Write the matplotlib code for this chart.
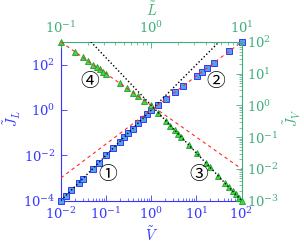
import numpy as np
import matplotlib
matplotlib.use("Agg")
import matplotlib.pyplot as plt
from matplotlib.ticker import FixedLocator, NullLocator, LogLocator, LogFormatterMathtext

plt.rcParams["mathtext.fontset"] = "cm"
plt.rcParams["font.family"] = ["DejaVu Serif", "Noto Sans CJK JP"]

# blue data: J_L against V (bottom / left axes)
V = [0.01, 0.0127, 0.0166, 0.025, 0.03, 0.05, 0.068, 0.1, 0.145, 0.2, 0.25,
     0.31, 0.385, 0.52, 0.64, 0.8, 1.0, 1.39, 2.1, 3.4, 5.1, 10.3, 13.2, 17.0,
     24.5, 52.7, 100.0]
J_L = [1.0e-4, 1.6e-4, 2.8e-4, 6.2e-4, 9.0e-4, 2.5e-3, 4.6e-3, 1.0e-2, 2.1e-2,
       4.0e-2, 6.2e-2, 9.6e-2, 0.148, 0.27, 0.41, 0.64, 1.0, 1.64, 3.04, 6.3,
       11.5, 33.0, 48.0, 70.0, 121.0, 383.0, 1000.0]

# green data: J_V against L (top / right axes)
L = [0.1, 0.143, 0.174, 0.2, 0.228, 0.25, 0.27, 0.295, 0.314, 0.445, 0.537,
     0.635, 0.71, 0.84, 1.0, 1.2, 1.45, 1.63, 1.82, 1.98, 2.15, 2.6, 3.2, 4.0,
     4.5, 5.5, 6.6, 7.2, 8.0, 8.6, 9.3, 10.0]
J_V = [100.0, 48.9, 33.0, 25.0, 19.2, 16.0, 13.7, 11.5, 10.1, 5.05, 3.47, 2.48,
       1.98, 1.42, 1.0, 0.58, 0.328, 0.231, 0.166, 0.129, 0.1, 0.057, 0.0305,
       0.0156, 0.011, 0.006, 0.0035, 0.0027, 0.00195, 0.00157, 0.00124, 0.001]

# guide lines (power laws)
V_fit = [0.01, 100.0]
JL_sq = [1e-4, 1e4]      # slope 2
JL_15 = [1e-3, 1e3]      # slope 1.5
L_fit = [0.1, 10.0]
JV_m2 = [100.0, 0.01]    # slope -2
JV_m3 = [1000.0, 0.001]  # slope -3

blue = "#3535ff"
green = "#3fae7a"

fig = plt.figure(figsize=(3.04, 2.44), dpi=100)
rect = [61 / 304, 1 - 200.5 / 244, 180.5 / 304, 158.5 / 244]
ax = fig.add_axes(rect)
ax2 = fig.add_axes(rect)
ax2.patch.set_visible(False)

# bottom / left
ax.plot(V, J_L, ls="none", marker="s", ms=3.8, mfc="#4fa3e6", mec=blue, mew=0.7,
        clip_on=False, zorder=3)
ax.plot(V_fit, JL_sq, ls=(0, (1, 1.6)), color="black", lw=1.0, zorder=4)
ax.plot(V_fit, JL_15, ls=(0, (3, 3)), color="#ff2a2a", lw=0.8, zorder=4)
ax.set_xscale("log")
ax.set_yscale("log")
ax.set_xlim(1e-2, 1e2)
ax.set_ylim(1e-4, 1e3)
ax.yaxis.set_major_locator(FixedLocator([1e-4, 1e-2, 1e0, 1e2]))
ax.yaxis.set_minor_locator(NullLocator())
ax.yaxis.set_major_formatter(LogFormatterMathtext())
ax.xaxis.set_major_locator(LogLocator(base=10, numticks=10))
ax.xaxis.set_minor_locator(LogLocator(base=10, subs=np.arange(2, 10), numticks=20))
for s in ["top", "right"]:
    ax.spines[s].set_visible(False)
for s in ["bottom", "left"]:
    ax.spines[s].set_color(blue)
    ax.spines[s].set_linewidth(0.8)
ax.tick_params(which="both", direction="in", colors=blue, labelsize=9.5, pad=4)
ax.tick_params(which="major", length=4.3, width=0.6)
ax.tick_params(which="minor", length=2.2, width=0.5)
ax.set_xlabel(r"$\tilde{V}$", color=blue, fontsize=10.5)
ax.set_ylabel(r"$\tilde{J}_L$", color=blue, fontsize=10.5)
ax.xaxis.set_label_coords(0.5, -0.218)
ax.yaxis.set_label_coords(-0.27, 0.52)
ax.xaxis.label.set_va("center")
ax.yaxis.label.set_va("center")

# top / right
ax2.plot(L, J_V, ls="none", marker="^", ms=4.6, mfc="#3fdc3f", mec="#1f9a2f", mew=0.6,
         clip_on=False, zorder=3)
ax2.plot(L_fit, JV_m3, ls=(0, (1, 1.6)), color="black", lw=1.0, zorder=4)
ax2.plot(L_fit, JV_m2, ls=(0, (3, 3)), color="#ff2a2a", lw=0.8, zorder=4)
ax2.set_xscale("log")
ax2.set_yscale("log")
ax2.set_xlim(1e-1, 1e1)
ax2.set_ylim(1e-3, 1e2)
ax2.xaxis.tick_top()
ax2.yaxis.tick_right()
ax2.xaxis.set_label_position("top")
ax2.yaxis.set_label_position("right")
ax2.xaxis.set_minor_locator(LogLocator(base=10, subs=np.arange(2, 10), numticks=20))
ax2.yaxis.set_minor_locator(LogLocator(base=10, subs=np.arange(2, 10), numticks=20))
for s in ["bottom", "left"]:
    ax2.spines[s].set_visible(False)
for s in ["top", "right"]:
    ax2.spines[s].set_color(green)
    ax2.spines[s].set_linewidth(0.8)
ax2.tick_params(which="both", direction="in", colors=green, labelsize=9.5, pad=4)
ax2.tick_params(which="major", length=4.3, width=0.6)
ax2.tick_params(which="minor", length=2.2, width=0.5)
ax2.set_xlabel(r"$\tilde{L}$", color=green, fontsize=10.5)
ax2.set_ylabel(r"$\tilde{J}_V$", color=green, fontsize=10.5)
ax2.xaxis.set_label_coords(0.5, 1.202)
ax2.yaxis.set_label_coords(1.28, 0.52)
ax2.xaxis.label.set_va("center")
ax2.yaxis.label.set_va("center")

# regime markers
for txt, x, y in [("\u2460", 107.3, 174.3), ("\u2461", 215.7, 81.7),
                  ("\u2462", 198.3, 174.3), ("\u2463", 89.3, 81.7)]:
    fig.text(x / 304, 1 - y / 244, txt, fontsize=13.5, ha="center", va="center",
             family=["Noto Sans CJK JP", "DejaVu Sans"])

fig.savefig("out.png", dpi=100)
